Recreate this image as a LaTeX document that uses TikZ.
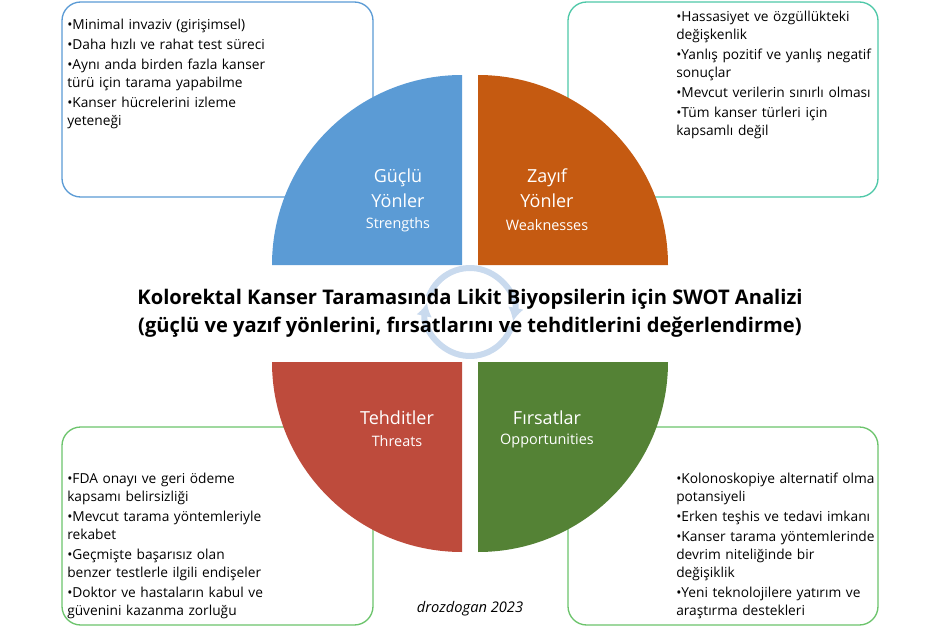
\documentclass[tikz,border=0pt]{standalone}
\usepackage{fontspec}
\usetikzlibrary{arrows.meta}
\setmainfont{Open Sans}
\newcommand{\itm}[1]{{\setbox0\hbox{•}\hangindent\wd0\hangafter1\noindent\box0 #1\par}}
\begin{document}
\begin{tikzpicture}[x=0.75pt,y=-0.75pt,
  box/.style={rounded corners=14pt,line width=1pt,fill=white},
  txt/.style={anchor=north west,text width=240pt,align=left,font=\fontsize{10.3}{13.5}\selectfont\setlength{\parskip}{1.5pt},inner sep=0pt},
  lab/.style={text=white,align=center,font=\fontsize{13.5}{19}\selectfont},
  sub/.style={text=white,font=\fontsize{10.8}{12}\selectfont}]
\useasboundingbox (0,0) rectangle (940,628);
\definecolor{cB}{HTML}{5B9BD5}\definecolor{cO}{HTML}{C55A11}
\definecolor{cR}{HTML}{BE4B3C}\definecolor{cG}{HTML}{548235}
\definecolor{bT}{HTML}{4FC8A8}\definecolor{bG}{HTML}{6CC46C}
\definecolor{ring}{HTML}{C9DAEE}
\draw[box,draw=cB] (62,2) rectangle (373,197);
\draw[box,draw=bT] (568,2) rectangle (878,197);
\draw[box,draw=bG] (62,427) rectangle (373,625);
\draw[box,draw=bG] (568,427) rectangle (878,625);
\fill[cB] (462,265) -- (272,265) arc[start angle=180,end angle=270,radius=190] -- cycle;
\fill[cO] (478,265) -- (478,75) arc[start angle=270,end angle=360,radius=190] -- cycle;
\fill[cR] (462,362) -- (462,552) arc[start angle=90,end angle=180,radius=190] -- cycle;
\fill[cG] (478,362) -- (668,362) arc[start angle=0,end angle=90,radius=190] -- cycle;
\draw[ring,line width=4.5pt,-{Latex[length=10pt,width=12pt]}] (470,312) ++(-160:44) arc[start angle=-160,end angle=12,radius=44];
\draw[ring,line width=4.5pt,-{Latex[length=10pt,width=12pt]}] (470,312) ++(20:44) arc[start angle=20,end angle=192,radius=44];
\node[lab] (g) at (398,188) {Güçlü\\Yönler};
\node[sub] (gs) at (398,225) {Strengths};
\node[lab] (z) at (547,188) {Zayıf\\Yönler};
\node[sub] (zs) at (547,225) {Weaknesses};
\node[lab] (t) at (397,418) {Tehditler};
\node[sub] (ts) at (397,441) {Threats};
\node[lab] (f) at (547,418) {Fırsatlar};
\node[sub] (fs) at (547,441) {Opportunities};
\node[align=center,font=\bfseries\fontsize{15.1}{21}\selectfont] (title) at (470,313) {Kolorektal Kanser Taramasında Likit Biyopsilerin için SWOT Analizi\\(güçlü ve yazıf yönlerini, fırsatlarını ve tehditlerini değerlendirme)};
\node[txt] (s) at (67,19) {\itm{Minimal invaziv (girişimsel)}\itm{Daha hızlı ve rahat test süreci}\itm{Aynı anda birden fazla kanser\\türü için tarama yapabilme}\itm{Kanser hücrelerini izleme\\yeteneği}};
\node[txt] (w) at (676,11) {\itm{Hassasiyet ve özgüllükteki\\değişkenlik}\itm{Yanlış pozitif ve yanlış negatif\\sonuçlar}\itm{Mevcut verilerin sınırlı olması}\itm{Tüm kanser türleri için\\kapsamlı değil}};
\node[txt] (th) at (67,473) {\itm{FDA onayı ve geri ödeme\\kapsamı belirsizliği}\itm{Mevcut tarama yöntemleriyle\\rekabet}\itm{Geçmişte başarısız olan\\benzer testlerle ilgili endişeler}\itm{Doktor ve hastaların kabul ve\\güvenini kazanma zorluğu}};
\node[txt] (o) at (676,473) {\itm{Kolonoskopiye alternatif olma\\potansiyeli}\itm{Erken teşhis ve tedavi imkanı}\itm{Kanser tarama yöntemlerinde\\devrim niteliğinde bir\\değişiklik}\itm{Yeni teknolojilere yatırım ve\\araştırma destekleri}};
\node[font=\itshape\fontsize{11}{12}\selectfont] (cr) at (470,609) {drozdogan 2023};
\end{tikzpicture}
\end{document}
